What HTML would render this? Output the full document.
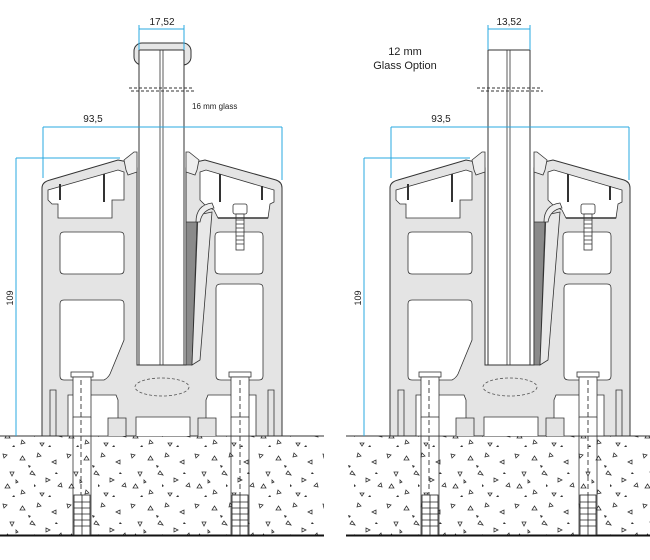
<!DOCTYPE html>
<html><head><meta charset="utf-8"><style>
html,body{margin:0;padding:0;background:#fff;width:650px;height:560px;overflow:hidden}
svg{display:block}
text{font-family:"Liberation Sans",sans-serif;fill:#222}
</style></head><body>
<svg width="650" height="560" viewBox="0 0 650 560" xmlns="http://www.w3.org/2000/svg">
<defs>
<pattern id="conc" width="64" height="50" patternUnits="userSpaceOnUse">
<g fill="none" stroke="#333" stroke-width="0.8">
<path d="M3,4 l4,1 l-3,3z"/><path d="M20,10 l5,0 l-2.5,-4z"/><path d="M38,3 l3,3 l-4,1z"/>
<path d="M52,12 l4,-2 l0,4z"/><path d="M10,22 l4,0 l-2,4z"/><path d="M30,24 l5,1 l-3,-4z"/>
<path d="M46,28 l4,2 l-4,2z"/><path d="M58,36 l3,-3 l1,4z"/><path d="M5,38 l5,0 l-2.5,-4z"/>
<path d="M22,40 l3,3 l-4,1z"/><path d="M40,43 l4,0 l-2,3z"/><path d="M16,30 l2,2 l-2,1z"/>
</g>
<g fill="#333"><path d="M28,15 l3,1 l-2,2z"/><path d="M56,22 l2,2 l-3,0z"/><path d="M12,47 l3,0 l-1,-2z"/><path d="M48,47 l2,-2 l1,2z"/><path d="M34,34 l2,2 l-2,1z"/></g>
</pattern>
<g id="prof">
<!-- profile body -->
<path d="M42,188 Q42,182 50,180 L118,160 L128,162 L130,168 L137,168 L137,365 L186,365 L186,168 L194,168 L196,162 L205,160 L276,180 Q282,182 282,188 L282,436 L42,436 Z" fill="#e4e4e4" stroke="#333" stroke-width="1"/>
<!-- top left cavity -->
<path d="M48,190 L118,170 L124,172 L124,200 L112,200 L112,218 L58,218 L58,204 L52,204 L48,200Z" fill="#fff" stroke="#333" stroke-width="0.8"/>
<path d="M200,172 L206,170 L274,190 L274,202 L270,204 L268,218 L218,218 L214,210 L205,205 L200,200Z" fill="#fff" stroke="#333" stroke-width="0.8"/>
<!-- fins -->
<path d="M60,184 L60,200 M104,174 L104,202 M220,174 L220,202 M262,186 L262,200" stroke="#333" stroke-width="2"/>
<!-- chambers left -->
<path d="M64,232 Q60,232 60,236 L60,270 Q60,274 64,274 L120,274 Q124,274 124,270 L124,236 Q124,232 120,232Z" fill="#fff" stroke="#333" stroke-width="0.8"/>
<path d="M64,300 Q60,300 60,304 L60,376 Q60,380 64,380 L104,380 Q108,378 110,374 L124,340 L124,304 Q124,300 120,300Z" fill="#fff" stroke="#333" stroke-width="0.8"/>
<!-- chambers right -->
<path d="M220,232 Q215,232 215,236 L215,270 Q215,274 220,274 L259,274 Q263,274 263,270 L263,236 Q263,232 259,232Z" fill="#fff" stroke="#333" stroke-width="0.8"/>
<path d="M221,284 Q216,284 216,288 L216,376 Q216,380 221,380 L259,380 Q263,380 263,376 L263,288 Q263,284 259,284Z" fill="#fff" stroke="#333" stroke-width="0.8"/>
<!-- wedge -->
<path d="M186,222 L197,222 L192,365 L186,365Z" fill="#8a8a8a" stroke="#333" stroke-width="0.8"/>
<path d="M198,215 L212,212 L200,360 L192,365Z" fill="#e8e8e8" stroke="#333" stroke-width="0.8"/>
<path d="M196,222 Q196,205 212,203 L214,208 Q202,210 200,222Z" fill="#eee" stroke="#333" stroke-width="0.8"/>
<!-- bolt -->
<rect x="233" y="204" width="14" height="10" rx="2" fill="#fff" stroke="#333" stroke-width="0.8"/>
<rect x="236" y="214" width="8" height="36" fill="#fff" stroke="#333" stroke-width="0.8"/>
<path d="M236,220 h8 M236,224 h8 M236,228 h8 M236,232 h8 M236,236 h8 M236,240 h8 M236,244 h8" stroke="#333" stroke-width="0.7"/>
<path d="M218,218 L268,218" stroke="#333" stroke-width="1.5"/>
<!-- gaskets -->
<path d="M124,160 L134,152 L137,152 L137,172 L128,175 L126,170Z" fill="#eee" stroke="#333" stroke-width="0.8"/>
<path d="M199,160 L189,152 L186,152 L186,172 L195,175 L197,170Z" fill="#eee" stroke="#333" stroke-width="0.8"/>
<!-- base -->
<ellipse cx="162" cy="387" rx="27" ry="9" fill="none" stroke="#555" stroke-width="0.8" stroke-dasharray="3,2"/>
<path d="M136,436 L136,417 L190,417 L190,436" fill="#fff" stroke="#333" stroke-width="0.8"/>
<path d="M50,436 L50,390 L56,390 L56,436 M274,436 L274,390 L268,390 L268,436" fill="none" stroke="#333" stroke-width="0.8"/>
<path d="M68,436 L68,395 L116,395 L118,400 L118,436Z" fill="#fff" stroke="#333" stroke-width="0.8"/>
<path d="M206,436 L206,400 L208,395 L256,395 L256,436Z" fill="#fff" stroke="#333" stroke-width="0.8"/>
<path d="M108,436 L108,418 L126,418 L126,436 M198,436 L198,418 L216,418 L216,436" fill="#e4e4e4" stroke="#333" stroke-width="0.8"/>
<!-- anchors -->
<g fill="#fff" stroke="#333" stroke-width="0.8">
<rect x="71" y="372" width="22" height="5"/><rect x="73" y="377" width="18" height="40"/>
<rect x="229" y="372" width="22" height="5"/><rect x="231" y="377" width="18" height="40"/>
</g>
<path d="M73,417 L73,535 M91,417 L91,535 M231,417 L231,535 M249,417 L249,535" stroke="#333" stroke-width="0.8"/>
<path d="M81,380 L81,520 M240,380 L240,520" stroke="#333" stroke-width="0.9" stroke-dasharray="5,3"/>
<g fill="#fff" stroke="#222" stroke-width="0.8">
<rect x="74" y="495" width="16" height="40"/><rect x="232" y="495" width="16" height="40"/>
</g>
<path d="M74,502h16M74,508h16M74,514h16M74,520h16M74,526h16M82,495v40M232,502h16M232,508h16M232,514h16M232,520h16M232,526h16M240,495v40" stroke="#222" stroke-width="0.8"/>
</g>
</defs>

<!-- concrete -->
<rect x="0" y="436" width="650" height="99" fill="url(#conc)"/>
<rect x="324" y="436" width="22" height="99" fill="#fff"/>
<path d="M0,436 H324 M346,436 H650" stroke="#333" stroke-width="1"/>
<path d="M0,535.5 H324 M346,535.5 H650" stroke="#111" stroke-width="2"/>

<use href="#prof"/>
<use href="#prof" transform="translate(348,0)"/>

<!-- left glass -->
<rect x="134" y="43" width="57" height="22" rx="8" fill="#e6e6e6" stroke="#333"/>
<rect x="139" y="50" width="45" height="315" fill="#fff" stroke="#333"/>
<path d="M160,50 V365 M163,50 V365" stroke="#333" stroke-width="0.8"/>
<path d="M129,88 H194 M131,91 H194" stroke="#333" stroke-dasharray="3,2" stroke-width="1"/>
<!-- right glass -->
<rect x="488" y="50" width="42" height="315" fill="#fff" stroke="#333"/>
<path d="M507,50 V365 M510,50 V365" stroke="#333" stroke-width="0.8"/>
<path d="M477,88 H541 M481,91 H543" stroke="#333" stroke-dasharray="3,2" stroke-width="1"/>

<!-- dimensions -->
<g stroke="#29a8e0" stroke-width="1" fill="none">
<path d="M139,29 H184 M139,25 V50 M184,25 V50"/>
<path d="M43,127 H282 M43,127 V178 M282,127 V180"/>
<path d="M16,158 V436 M16,158 H120"/>
<path d="M488,29 H530 M488,25 V50 M530,25 V50"/>
<path d="M391,127 H629 M391,127 V178 M629,127 V180"/>
<path d="M364,158 V436 M364,158 H470"/>
</g>
<text x="162" y="25" font-size="10" text-anchor="middle">17,52</text>
<text x="93" y="122" font-size="10" text-anchor="middle">93,5</text>
<text x="192" y="109" font-size="8">16 mm glass</text>
<text transform="translate(13,298) rotate(-90)" font-size="9" text-anchor="middle">109</text>
<text x="509" y="25" font-size="10" text-anchor="middle">13,52</text>
<text x="441" y="122" font-size="10" text-anchor="middle">93,5</text>
<text transform="translate(361,298) rotate(-90)" font-size="9" text-anchor="middle">109</text>
<text x="405" y="55" font-size="11" text-anchor="middle">12 mm</text>
<text x="405" y="69" font-size="11" text-anchor="middle">Glass Option</text>
</svg>
</body></html>
